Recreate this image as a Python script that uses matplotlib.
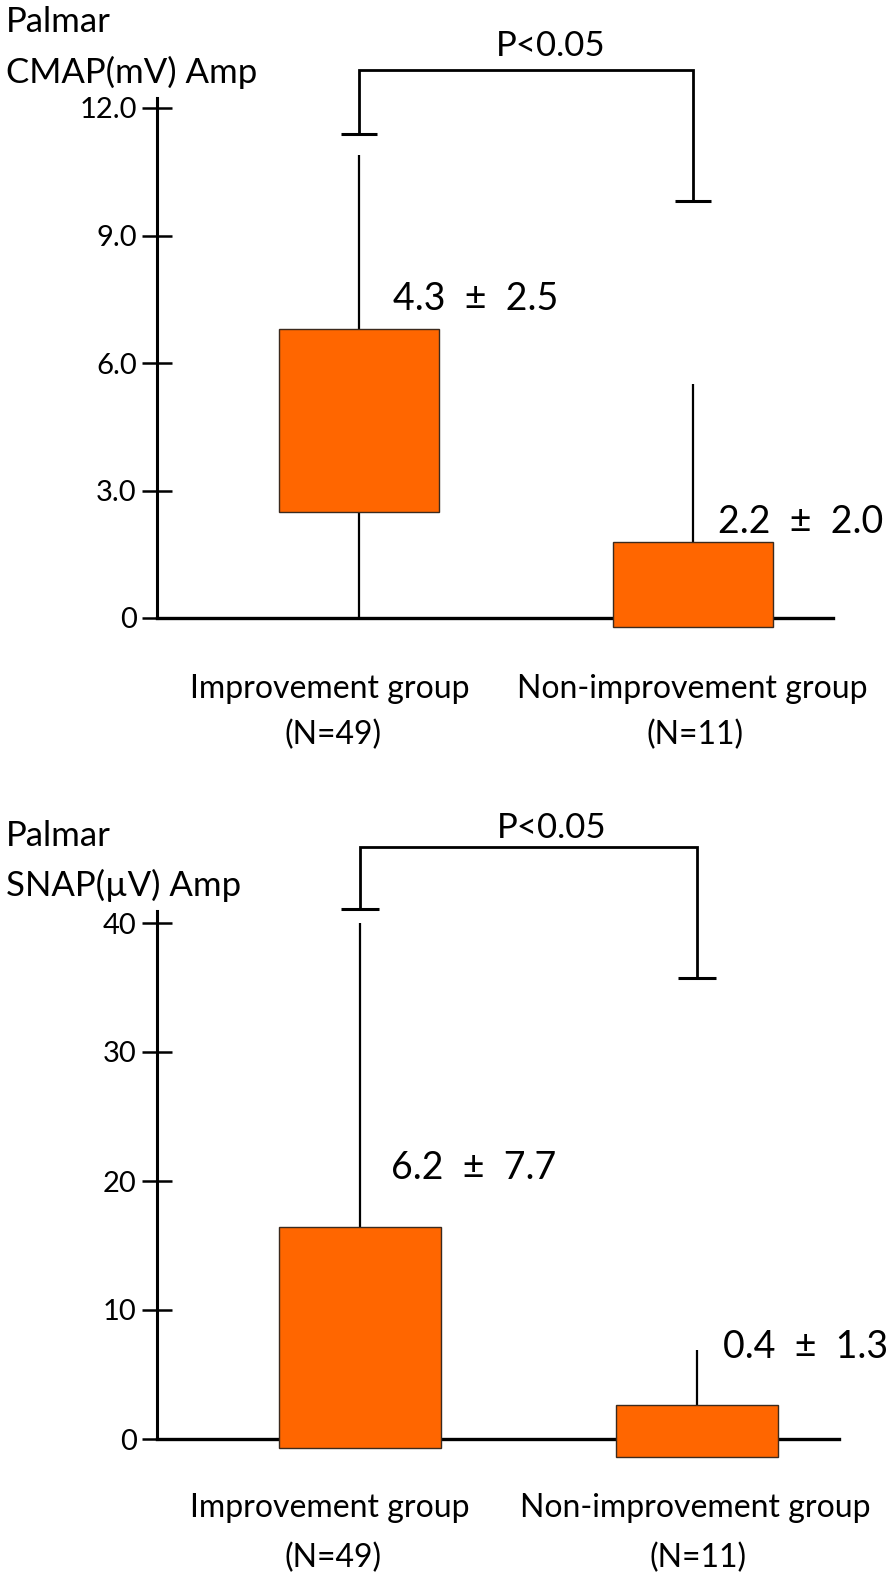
"""Palmar CMAP / SNAP amplitude by outcome group (two stacked box panels)."""

import matplotlib
matplotlib.use("Agg")
import matplotlib.pyplot as plt

W, H = 894, 1579
ORANGE = "#FF6600"
plt.rcParams["font.family"] = ["Lato", "DejaVu Sans"]

GROUP_NAMES = ["Improvement group", "Non-improvement group"]
GROUP_N = ["(N=49)", "(N=11)"]
P_TEXT = "P<0.05"

# top panel - CMAP (mV)
cmap_title = ["Palmar", "CMAP(mV) Amp"]
cmap_box_low = [2.5, -0.2]
cmap_box_high = [6.8, 1.8]
cmap_whisker_top = [10.9, 5.5]
cmap_whisker_low = [0.0, None]
cmap_bracket_feet = [11.4, 9.8]
cmap_bracket_top = 12.9
cmap_axis_top = 12.24
cmap_ticks = [0, 3, 6, 9, 12]
cmap_ticklabels = ["0", "3.0", "6.0", "9.0", "12.0"]
cmap_stats = ["4.3  \u00b1  2.5", "2.2  \u00b1  2.0"]

# bottom panel - SNAP (uV)
snap_title = ["Palmar", "SNAP(\u00b5V) Amp"]
snap_box_low = [-0.7, -1.4]
snap_box_high = [16.4, 2.6]
snap_whisker_top = [40.0, 6.9]
snap_whisker_low = [None, None]
snap_bracket_feet = [41.1, 35.7]
snap_bracket_top = 45.9
snap_axis_top = 40.9
snap_ticks = [0, 10, 20, 30, 40]
snap_ticklabels = ["0", "10", "20", "30", "40"]
snap_stats = ["6.2  \u00b1  7.7", "0.4  \u00b1  1.3"]


def ftext(fig, x, y, s, **kw):
    """Place text at figure pixel coords (origin top-left)."""
    fig.text(x / W, 1 - y / H, s, **kw)


def draw_panel(fig, layout, low, high, wtop, wlow, feet, btop, axis_top,
               ticks, ticklabels):
    top_px, bot_px, zero_px, unit_px, c1, c2 = layout
    left_px, right_px = 157, 894
    ax = fig.add_axes([left_px / W, 1 - bot_px / H,
                       (right_px - left_px) / W, (bot_px - top_px) / H])
    ax.set_ylim((zero_px - bot_px) / unit_px, (zero_px - top_px) / unit_px)
    sx = c2 - c1
    x0 = 1 - (c1 - left_px) / sx
    ax.set_xlim(x0, 2 + (right_px - c2) / sx)
    ax.patch.set_visible(False)

    xs = [1, 2]
    ax.bar(xs, [h - l for h, l in zip(high, low)], bottom=low, width=0.48,
           color=ORANGE, edgecolor="#3b2a1e", linewidth=1.0, zorder=4)
    for x, lo, hi, wt, wl in zip(xs, low, high, wtop, wlow):
        ax.plot([x, x], [hi, wt], color="black", lw=1.6, zorder=3,
                solid_capstyle="butt")
        if wl is not None:
            ax.plot([x, x], [wl, lo], color="black", lw=1.6, zorder=3,
                    solid_capstyle="butt")

    # significance bracket with its flat feet
    ax.plot([1, 1, 2, 2], [feet[0], btop, btop, feet[1]], color="black",
            lw=2.0, zorder=3, solid_joinstyle="miter")
    ax.hlines(feet, [x - 0.055 for x in xs], [x + 0.055 for x in xs],
              color="black", lw=2.2, zorder=3)

    for side in ("top", "right"):
        ax.spines[side].set_visible(False)
    ax.spines["left"].set_bounds(0, axis_top)
    ax.spines["left"].set_linewidth(2.2)
    ax.spines["bottom"].set_position(("data", 0))
    ax.spines["bottom"].set_bounds(x0, 2.42)
    ax.spines["bottom"].set_linewidth(2.4)
    ax.set_xticks([])
    ax.set_yticks(ticks, ticklabels)
    ax.tick_params(axis="y", direction="inout", length=21, width=1.8,
                   pad=4, labelsize=21)
    return ax


fig = plt.figure(figsize=(W / 100, H / 100), dpi=100)

draw_panel(fig, (40, 660, 618, 42.5, 359, 693), cmap_box_low, cmap_box_high,
           cmap_whisker_top, cmap_whisker_low, cmap_bracket_feet,
           cmap_bracket_top, cmap_axis_top, cmap_ticks, cmap_ticklabels)
draw_panel(fig, (800, 1470, 1439, 12.9, 360, 697), snap_box_low, snap_box_high,
           snap_whisker_top, snap_whisker_low, snap_bracket_feet,
           snap_bracket_top, snap_axis_top, snap_ticks, snap_ticklabels)

# titles, p-values, stats and group labels (pixel positions)
for title, ys in ((cmap_title, (22, 72)), (snap_title, (836, 885))):
    for s, y in zip(title, ys):
        ftext(fig, 6, y, s, fontsize=25, ha="left", va="center")

ftext(fig, 551, 46, P_TEXT, fontsize=25, ha="center", va="center")
ftext(fig, 552, 828, P_TEXT, fontsize=25, ha="center", va="center")

for s, (x, y) in zip(cmap_stats, ((393, 299), (718, 522))):
    ftext(fig, x, y, s, fontsize=27, ha="left", va="center")
for s, (x, y) in zip(snap_stats, ((391, 1168), (723, 1347))):
    ftext(fig, x, y, s, fontsize=27, ha="left", va="center")

for ys, xs in (((689, 735), (330, 692)), ((1508, 1558), (330, 695))):
    for name, n, x in zip(GROUP_NAMES, GROUP_N, xs):
        ftext(fig, x, ys[0], name, fontsize=23, ha="center", va="center")
        ftext(fig, x + 3, ys[1], n, fontsize=23, ha="center", va="center")

fig.savefig("out.png", dpi=100)
